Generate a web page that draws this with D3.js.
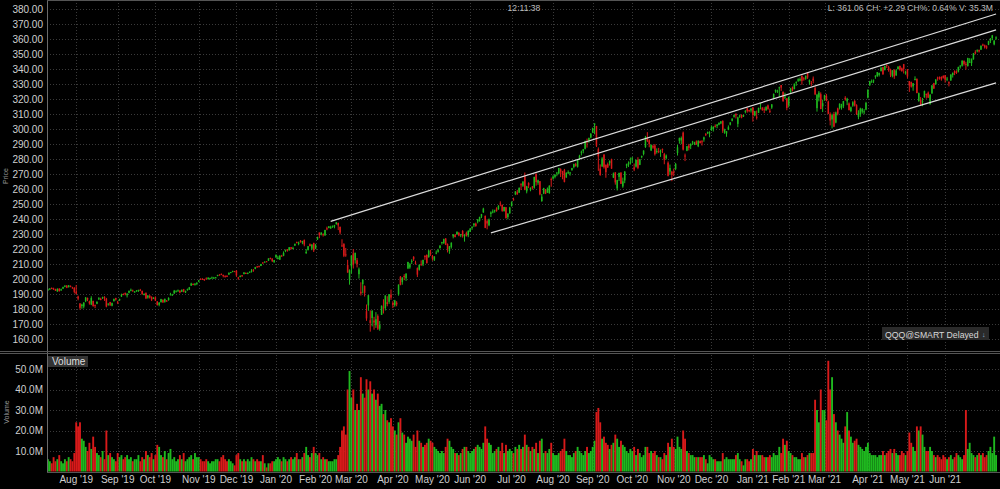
<!DOCTYPE html>
<html><head><meta charset="utf-8">
<script src="https://cdn.jsdelivr.net/npm/d3@7"></script>
<style>
html,body{margin:0;padding:0;background:#000;}
svg{display:block;}
text{font-family:"Liberation Sans",Arial,sans-serif;}
</style></head><body>
<svg id="chart" width="1000" height="489"></svg>
<script>
// ---------- DATA ----------
const firstDay = "2019-07-11";
const lastDay = "2021-07-09";
const holidays = ["2019-09-02","2019-11-28","2019-12-25","2020-01-01","2020-01-20","2020-02-17","2020-04-10","2020-05-25","2020-07-03","2020-09-07","2020-11-26","2020-12-25","2021-01-01","2021-01-18","2021-02-15","2021-04-02","2021-05-31","2021-07-05"];

const opens = [
/*Jul19*/192.6,193.3,194.0,193.6,193.1,191.8,193.5,192.4,193.6,194.8,195.5,194.6,195.4,194.4,194.0,
/*Aug19*/191.5,188.3,183.6,182.0,181.6,185.2,187.4,185.1,183.0,185.4,182.6,183.5,186.4,186.8,187.3,188.1,186.9,183.1,184.6,182.2,185.2,187.3,
/*Sep19*/184.8,185.8,188.4,190.0,190.6,189.2,190.8,192.6,192.3,191.4,191.8,192.2,192.8,192.0,189.6,190.6,187.6,188.9,188.1,186.8,
/*Oct19*/187.8,185.0,182.8,184.6,186.0,184.8,185.6,186.0,189.5,189.4,190.4,191.6,192.2,192.3,191.5,193.1,191.0,192.6,193.0,195.6,196.6,196.5,197.0,
/*Nov19*/198.2,200.2,200.1,199.8,200.4,199.9,200.1,200.7,200.6,200.8,202.0,202.9,203.4,202.7,202.1,202.1,202.9,204.2,204.8,205.2,
/*Dec19*/205.6,201.0,201.5,202.5,203.3,204.0,203.5,204.2,205.0,206.2,206.7,208.3,208.5,208.7,211.0,211.2,211.8,212.2,214.0,213.6,211.2,
/*Jan20*/214.4,213.3,212.9,215.6,215.5,219.0,219.9,219.2,221.2,220.1,222.3,224.7,223.4,225.5,224.3,226.1,217.2,219.4,223.2,220.2,224.0,
/*Feb20*/220.3,226.4,231.0,229.8,229.9,229.1,233.8,234.0,233.7,234.7,235.0,236.6,237.3,234.8,222.4,223.3,216.4,209.3,199.6,
/*Mar20*/208.4,217.1,212.5,212.5,203.2,191.5,196.6,195.3,178.5,182.4,172.5,174.0,172.3,169.2,175.3,166.9,176.1,181.0,180.6,184.5,184.8,189.6,
/*Apr20*/184.1,182.5,184.2,189.7,201.5,197.9,202.0,200.5,207.1,207.7,211.9,214.8,210.9,207.2,206.2,209.9,209.8,215.5,216.0,214.6,217.5,
/*May20*/215.4,212.8,217.2,218.2,220.6,224.0,223.8,227.0,223.2,218.6,221.4,228.4,229.3,229.8,230.7,229.2,232.0,228.4,230.7,229.1,
/*Jun20*/231.5,234.1,235.8,236.9,238.3,238.9,241.6,244.4,242.0,238.6,235.8,243.4,244.7,245.1,247.0,246.6,250.4,249.4,245.3,247.8,241.3,243.8,
/*Jul20*/248.5,253.1,256.4,257.9,257.6,263.2,262.2,268.4,258.4,264.0,259.4,261.6,260.9,270.2,264.2,265.2,251.9,257.0,259.6,257.6,257.3,266.6,
/*Aug20*/267.0,268.1,270.4,270.4,273.2,271.9,272.6,267.7,270.9,270.8,272.7,274.7,276.6,274.8,280.5,284.2,285.4,286.8,291.8,292.5,294.3,
/*Sep20*/297.8,302.8,302.0,286.5,273.6,275.1,283.0,276.1,276.6,277.2,279.9,267.6,271.1,260.4,268.1,270.9,261.7,265.7,275.5,276.3,277.6,
/*Oct20*/280.3,274.4,274.9,279.4,276.1,281.3,283.3,288.0,294.0,292.4,285.7,288.8,289.0,284.7,285.2,285.4,286.7,283.4,280.5,277.5,271.6,271.5,
/*Nov20*/271.4,273.4,284.0,292.1,292.4,297.6,282.3,285.5,289.0,288.8,291.5,290.0,291.7,288.5,291.9,291.8,293.0,296.8,297.2,297.6,
/*Dec20*/299.3,300.0,302.1,302.0,302.9,303.7,305.4,297.6,297.0,299.6,302.9,305.5,308.2,310.1,303.4,308.4,309.3,308.4,311.5,313.8,312.6,312.3,
/*Jan21*/314.4,309.0,308.2,310.8,316.5,314.3,313.2,312.5,315.7,312.1,314.3,320.3,325.1,324.8,327.3,329.3,324.8,321.0,320.4,
/*Feb21*/315.9,324.6,327.8,326.7,331.2,332.2,332.3,335.6,333.8,333.4,337.9,331.2,330.8,333.6,327.3,313.9,321.0,323.2,315.1,
/*Mar21*/319.8,322.1,318.3,310.0,306.4,310.0,304.3,313.7,314.1,314.3,315.2,320.8,318.4,317.0,312.0,315.6,318.7,315.9,308.1,309.6,311.6,311.8,312.9,
/*Apr21*/320.9,329.3,331.3,331.8,334.8,335.3,336.1,338.7,341.3,339.4,342.8,341.2,339.8,335.4,339.3,335.8,340.0,342.0,340.5,343.2,337.1,
/*May21*/339.8,332.0,331.3,328.4,332.8,333.4,318.6,319.6,318.3,321.2,323.4,324.2,316.6,323.7,330.5,329.8,334.2,334.7,334.7,335.4,
/*Jun21*/335.8,333.4,331.2,332.4,336.0,338.6,338.2,338.2,341.7,342.2,345.5,343.4,342.0,344.7,343.9,346.5,351.2,352.2,352.6,352.9,356.3,355.8,
/*Jul21*/355.0,356.2,358.8,360.6,356.4,360.3
];
const highs = [
/*Jul19*/193.6,194.0,194.4,194.2,193.5,193.8,193.9,193.6,194.9,195.8,196.0,196.0,195.7,194.8,194.6,
/*Aug19*/196.0,188.9,184.0,183.5,184.6,188.0,187.6,185.6,188.5,185.5,183.0,185.1,187.9,187.5,188.2,188.5,187.4,183.8,184.8,184.3,187.0,187.5,
/*Sep19*/185.4,186.9,190.2,190.4,191.0,190.5,192.3,193.6,192.9,192.0,192.6,192.9,193.4,192.3,190.5,191.1,189.3,189.2,188.4,187.9,
/*Oct19*/188.4,185.3,184.6,186.8,186.5,186.9,186.0,187.8,190.8,190.1,192.7,192.5,193.0,192.4,193.0,193.4,192.3,193.6,194.7,197.5,197.1,197.3,197.9,
/*Nov19*/199.3,200.4,200.5,200.1,201.1,201.1,200.9,201.6,201.4,201.4,202.8,203.2,203.7,202.9,202.4,202.5,204.3,204.7,205.5,205.4,
/*Dec19*/205.9,201.4,202.5,202.6,204.6,204.4,204.4,205.0,206.6,206.6,208.1,208.7,208.9,210.1,211.2,211.7,211.9,213.8,214.3,213.8,212.7,
/*Jan20*/216.2,215.5,215.8,216.1,218.4,219.6,220.0,221.2,221.3,221.5,223.5,224.9,224.9,226.0,225.4,226.3,219.9,222.0,223.7,223.1,224.2,
/*Feb20*/223.4,228.2,231.0,231.0,230.5,232.8,234.9,235.3,235.5,235.6,236.1,237.9,237.6,234.9,226.5,223.9,220.7,212.8,206.4,
/*Mar20*/215.7,220.0,217.5,214.0,207.6,197.8,199.6,195.7,183.0,189.3,179.1,179.3,174.8,177.9,176.4,172.0,182.3,186.5,189.1,188.5,190.0,193.0,
/*Apr20*/185.2,186.1,185.2,196.4,202.0,201.1,203.2,204.0,211.5,210.6,213.2,215.2,212.2,207.7,209.8,212.4,212.9,215.8,216.4,219.4,219.5,
/*May20*/216.0,215.2,219.0,220.1,222.6,224.8,226.9,227.3,223.7,222.0,224.4,230.0,230.0,231.8,231.4,230.0,232.6,229.8,231.6,232.4,
/*Jun20*/233.9,235.1,237.3,237.6,240.0,241.5,243.4,247.5,242.4,239.8,240.3,245.1,246.4,246.2,247.8,249.2,251.8,249.7,248.1,248.0,243.8,248.1,
/*Jul20*/251.8,254.2,258.6,259.4,261.0,263.9,265.1,271.0,262.1,264.5,261.1,262.0,268.2,270.3,266.2,265.3,256.7,260.8,260.0,261.0,262.5,267.6,
/*Aug20*/269.2,269.9,271.4,274.1,273.8,272.1,273.4,271.1,272.4,271.4,274.1,276.9,277.4,279.8,282.8,285.6,286.6,292.2,293.6,294.3,297.3,
/*Sep20*/300.9,303.7,302.1,287.7,276.4,281.2,283.1,276.4,277.6,279.0,280.2,271.0,271.2,266.1,270.9,271.2,267.6,271.9,276.9,278.4,281.0,
/*Oct20*/281.4,277.0,279.6,281.2,280.0,282.3,285.8,295.4,297.9,293.1,289.7,289.5,290.0,287.1,287.4,286.3,287.0,284.1,283.0,278.4,276.3,272.1,
/*Nov20*/273.6,277.4,289.4,294.3,295.0,298.3,283.6,288.7,290.1,290.4,292.1,291.5,292.4,292.4,292.3,292.6,294.9,297.2,298.3,298.5,
/*Dec20*/302.4,301.8,303.1,303.2,304.5,305.3,305.8,300.2,298.6,302.4,304.5,307.1,309.6,310.4,308.2,309.6,309.8,309.6,312.6,314.2,312.9,313.8,
/*Jan21*/314.6,312.1,312.3,314.3,317.1,314.5,314.5,315.2,316.3,313.6,316.6,323.7,326.4,326.2,328.2,329.3,325.0,324.2,320.6,
/*Feb21*/321.6,327.4,328.3,330.3,331.7,333.8,334.4,335.6,334.6,335.7,338.0,333.0,332.0,335.0,328.3,323.4,325.3,324.4,319.6,
/*Mar21*/322.8,323.4,318.9,311.1,310.2,311.4,311.6,314.2,317.1,316.8,318.7,321.9,320.8,317.7,315.0,318.5,319.3,316.5,312.5,314.2,314.0,313.2,318.1,
/*Apr21*/326.4,332.1,333.0,333.0,335.8,338.0,337.6,341.1,341.4,342.3,342.9,342.1,340.2,339.2,339.9,339.8,341.8,342.3,341.0,343.4,338.9,
/*May21*/340.0,332.0,331.6,330.6,335.1,333.7,324.3,321.3,320.7,325.6,323.6,325.0,323.3,329.3,330.8,333.3,334.9,335.0,335.1,335.8,
/*Jun21*/336.0,334.7,331.8,336.5,337.7,339.1,339.1,341.5,342.5,345.7,345.6,344.8,347.5,347.2,347.0,350.7,352.5,353.1,353.0,355.7,356.9,356.3,
/*Jul21*/355.8,358.8,360.6,362.7,359.4,361.8
];
const lows = [
/*Jul19*/192.1,192.8,193.2,192.7,192.0,191.4,191.6,192.1,193.3,194.5,193.9,194.3,194.5,193.5,190.4,
/*Aug19*/189.6,185.8,179.5,180.2,180.4,184.6,185.2,182.9,182.6,181.6,180.6,183.2,186.1,185.8,186.7,185.4,181.1,182.2,182.0,181.8,185.0,185.6,
/*Sep19*/183.3,185.4,188.0,189.2,189.1,187.7,190.4,191.8,191.8,191.0,191.5,191.4,191.9,189.5,189.1,186.6,186.9,187.0,185.3,186.6,
/*Oct19*/185.3,182.3,181.8,184.3,184.1,184.2,184.9,185.5,189.0,188.9,190.1,191.2,191.6,190.5,191.3,191.1,190.6,192.2,192.7,195.4,195.9,195.6,195.9,
/*Nov19*/197.9,199.5,199.4,198.8,199.9,199.6,199.8,200.3,200.2,200.5,201.8,202.4,202.6,201.1,200.9,201.3,202.8,203.9,204.5,204.7,
/*Dec19*/201.5,199.5,201.1,201.4,203.1,203.4,203.2,204.0,204.3,204.8,206.5,207.7,207.9,208.6,210.2,210.9,211.3,212.0,213.1,211.3,210.8,
/*Jan20*/214.1,213.1,212.7,214.9,215.2,217.9,218.2,218.9,219.6,219.8,222.0,223.7,222.5,224.3,223.2,221.8,216.8,219.0,221.7,219.2,218.0,
/*Feb20*/219.9,226.0,227.2,229.1,228.3,228.8,232.5,233.8,233.5,234.1,233.8,236.2,232.6,229.7,221.4,214.6,214.8,204.2,196.2,
/*Mar20*/203.6,207.0,210.3,207.7,200.3,189.0,190.4,188.3,172.1,178.8,164.9,168.4,166.2,167.4,166.0,165.5,176.0,177.0,179.0,181.8,183.4,186.1,
/*Apr20*/180.6,181.5,181.8,188.9,195.8,196.2,199.2,198.7,206.6,206.8,210.0,212.0,209.6,201.3,205.6,208.8,208.6,212.8,210.3,214.2,215.4,
/*May20*/212.2,212.0,216.5,217.6,220.3,222.9,223.5,222.6,217.7,216.8,220.3,227.1,227.7,229.4,228.5,227.9,227.6,224.9,228.3,227.9,
/*Jun20*/231.3,232.8,234.6,234.8,237.1,238.2,240.6,244.1,233.9,233.1,235.2,241.3,243.8,244.2,244.9,246.1,248.5,244.8,244.9,240.3,239.8,243.5,
/*Jul20*/248.4,252.3,255.9,256.2,257.3,259.3,261.4,259.2,257.1,260.6,258.5,259.6,260.2,262.2,262.8,255.8,251.5,256.6,256.6,257.4,256.8,261.5,
/*Aug20*/266.2,267.1,268.5,269.7,268.0,266.5,264.4,267.4,269.9,268.9,272.1,273.8,274.9,274.3,279.3,282.4,283.8,286.4,287.6,290.8,293.8,
/*Sep20*/297.3,296.5,288.0,272.1,268.8,274.7,273.6,267.5,274.0,275.6,273.4,267.3,262.9,259.0,265.3,263.3,260.8,263.9,273.9,274.7,276.3,
/*Oct20*/277.6,271.9,274.3,273.2,275.9,280.5,282.4,287.4,291.3,287.8,285.3,286.8,282.3,283.6,283.9,281.4,284.0,276.5,279.7,268.4,269.4,265.2,
/*Nov20*/268.6,272.5,282.3,290.2,289.9,285.7,278.6,285.2,285.7,286.6,289.4,289.3,289.5,287.9,290.4,289.0,291.5,295.3,296.6,294.5,
/*Dec20*/298.7,298.3,301.0,300.5,302.5,303.2,297.4,296.8,294.8,299.2,302.4,305.1,307.6,307.0,301.2,307.4,307.1,308.0,310.4,310.9,311.2,311.0,
/*Jan21*/304.9,308.5,306.3,310.6,313.1,312.1,310.6,312.1,312.8,310.6,313.4,320.2,324.1,324.0,321.3,325.4,318.1,320.0,312.5,
/*Feb21*/314.4,323.6,325.1,326.4,328.8,331.4,331.8,329.5,332.2,332.8,333.4,329.5,328.7,330.5,322.6,311.6,318.4,313.2,311.3,
/*Mar21*/318.8,318.5,309.9,302.4,300.4,301.2,303.8,309.1,313.0,312.9,313.9,318.9,315.9,312.4,311.2,314.8,315.0,309.4,306.5,308.1,310.3,309.8,312.5,
/*Apr21*/320.4,328.7,330.9,330.6,333.5,334.7,335.0,338.3,336.1,339.0,340.7,338.2,334.6,334.4,333.4,335.4,339.6,338.8,338.3,337.0,336.2,
/*May21*/333.7,324.7,327.6,325.5,332.4,323.8,318.2,315.5,315.2,320.8,320.2,320.7,316.2,323.5,326.7,329.6,332.2,332.9,332.2,333.6,
/*Jun21*/330.9,331.9,328.4,332.1,334.3,335.9,336.7,337.7,340.3,341.6,342.3,339.6,341.6,344.2,342.0,346.2,349.7,351.1,351.0,352.7,355.2,353.6,
/*Jul21*/353.2,355.9,357.3,359.2,355.8,359.5
];
const closes = [
/*Jul19*/193.1,193.6,193.8,193.0,192.2,193.4,191.9,193.2,194.6,195.6,194.2,195.7,194.9,194.1,191.4,
/*Aug19*/190.2,186.9,180.8,182.9,184.2,187.6,186.2,183.8,187.3,181.9,182.0,184.8,187.2,186.0,187.8,187.2,181.6,183.6,182.8,183.9,186.6,186.3,
/*Sep19*/184.5,186.6,189.6,189.8,190.0,190.2,192.1,192.8,192.2,191.6,192.3,192.6,192.2,189.9,190.0,187.1,188.9,187.6,186.2,187.4,
/*Oct19*/185.6,182.6,184.2,186.6,184.4,186.8,185.2,187.4,189.9,189.6,192.2,191.8,192.4,191.0,192.8,191.4,191.9,193.2,194.4,197.0,196.4,196.8,197.4,
/*Nov19*/199.1,199.9,199.8,199.6,200.3,200.9,200.6,201.0,200.9,201.1,202.7,202.8,203.1,202.0,201.6,202.0,204.2,204.6,205.4,205.0,
/*Dec19*/202.4,200.8,202.0,202.2,204.3,203.6,204.0,204.9,205.5,205.7,207.9,208.1,208.2,210.0,210.8,211.6,211.7,213.7,213.5,211.9,212.6,
/*Jan20*/216.2,214.2,215.6,215.5,217.4,219.4,218.9,221.2,220.2,220.7,223.5,224.3,224.2,224.5,225.4,223.0,218.1,221.8,222.0,223.0,219.1,
/*Feb20*/222.5,228.0,229.2,231.0,229.8,232.7,233.1,235.1,234.7,235.5,235.8,237.8,235.7,231.0,222.2,215.5,215.9,204.3,205.8,
/*Mar20*/215.6,209.5,217.5,210.0,206.4,190.4,199.6,190.8,173.7,189.2,170.7,178.7,171.0,173.2,166.8,169.3,182.2,180.8,189.0,183.3,189.9,187.6,
/*Apr20*/182.7,185.7,183.1,196.2,196.0,201.0,201.5,203.4,211.3,209.6,212.1,213.2,210.6,202.9,209.3,209.3,212.7,214.6,210.6,218.9,217.0,
/*May20*/213.5,215.0,217.6,219.2,222.2,224.6,226.6,222.8,220.1,221.8,224.2,229.6,228.0,231.4,229.0,229.8,228.6,229.6,228.9,232.2,
/*Jun20*/233.6,234.8,236.9,235.3,239.6,241.4,243.2,246.9,234.1,237.0,239.6,244.4,245.0,245.8,245.2,248.8,250.2,245.4,248.0,240.6,243.6,247.6,
/*Jul20*/251.2,252.8,258.4,256.4,260.8,262.6,265.0,259.4,261.8,262.4,260.6,261.2,268.0,264.6,265.8,256.4,254.9,260.6,256.9,260.3,262.2,266.0,
/*Aug20*/268.3,269.4,270.9,274.0,271.6,270.0,264.7,270.8,271.2,271.0,273.9,276.6,275.4,279.6,282.2,284.9,286.5,292.0,291.3,293.9,296.8,
/*Sep20*/300.6,303.7,288.9,281.7,269.4,280.3,274.5,271.2,274.4,278.8,273.6,270.3,264.4,265.9,270.7,263.5,265.1,271.6,276.5,277.3,277.8,
/*Oct20*/280.4,273.0,279.4,274.1,279.8,281.9,285.6,294.5,292.2,290.0,289.4,287.6,283.2,285.3,285.0,285.6,286.1,279.6,282.3,268.8,274.0,269.4,
/*Nov20*/271.3,276.7,287.8,293.9,294.0,286.3,282.0,288.5,287.4,290.1,291.6,290.9,289.7,292.2,290.6,291.4,294.4,296.2,298.0,297.6,
/*Dec20*/301.2,301.5,301.7,303.0,304.0,305.1,298.9,299.5,298.5,301.2,304.4,306.9,309.2,309.0,307.7,309.0,307.6,309.3,312.1,311.9,312.1,313.7,
/*Jan21*/309.3,311.9,307.5,314.0,317.0,312.7,312.6,314.6,313.4,311.9,316.4,323.4,326.0,325.6,327.8,327.6,318.6,321.6,314.0,
/*Feb21*/321.4,326.9,325.6,330.2,331.4,333.1,333.3,332.1,333.7,335.4,334.3,332.6,330.7,332.1,323.1,322.8,324.2,313.3,317.2,
/*Mar21*/322.5,318.8,310.1,305.6,309.2,301.6,311.0,310.2,316.8,315.4,318.6,319.8,320.2,312.6,314.4,317.8,315.6,309.8,310.4,313.6,313.2,311.8,317.4,
/*Apr21*/326.2,331.8,331.7,332.4,335.6,337.9,337.3,341.0,336.5,342.0,342.0,339.3,336.2,339.1,335.0,339.0,341.6,339.6,338.5,340.1,337.9,
/*May21*/335.0,329.0,328.2,330.5,333.4,324.0,323.9,315.7,318.6,325.3,322.6,320.9,322.8,329.0,327.0,332.9,333.5,334.3,333.1,334.2,
/*Jun21*/332.9,333.6,330.4,336.3,337.4,337.4,337.4,341.4,342.3,345.6,343.4,342.9,347.3,344.8,346.8,350.4,350.4,352.5,351.7,355.5,356.1,354.4,
/*Jul21*/354.6,358.6,360.2,362.4,358.77,361.06
];
// volume in millions
const volumes = [
/*Jul19*/6,5,4,7,5,6,8,5,4,6,5,7,6,5,9,
/*Aug19*/24,22,24,16,15,12,10,14,11,17,12,9,8,7,10,6,20,8,9,7,6,5,
/*Sep19*/9,7,8,6,7,8,6,7,5,6,6,8,5,7,6,10,8,7,9,6,
/*Oct19*/8,13,12,8,7,10,6,9,11,6,7,5,6,8,6,9,5,6,7,8,6,9,7,
/*Nov19*/7,6,5,5,6,5,4,5,5,6,6,5,7,8,6,5,6,5,4,3,
/*Dec19*/8,9,6,5,6,5,6,5,7,6,5,6,5,5,8,4,2,4,4,5,5,
/*Jan20*/6,7,6,5,7,6,5,6,7,6,7,9,6,6,7,9,12,8,7,9,12,
/*Feb20*/9,8,9,6,7,6,6,5,5,5,6,6,8,12,20,22,18,40,49,
/*Mar20*/36,40,30,33,30,46,38,36,45,40,44,38,40,35,38,32,33,28,30,25,24,26,
/*Apr20*/22,20,18,24,26,19,18,14,17,16,15,18,12,20,15,14,12,13,14,16,15,
/*May20*/14,12,11,10,9,10,9,12,16,15,12,11,9,9,8,9,11,12,12,10,
/*Jun20*/9,10,11,12,13,12,11,14,22,16,14,13,9,10,11,12,10,14,9,13,10,11,
/*Jul20*/10,9,12,11,13,11,12,18,13,12,10,12,11,14,9,15,16,9,10,9,11,14,
/*Aug20*/9,8,8,9,10,11,16,10,8,8,7,9,10,12,10,9,8,10,12,9,10,
/*Sep20*/12,15,29,31,24,16,17,14,13,11,13,14,18,16,12,15,13,12,10,9,11,
/*Oct20*/10,12,8,11,9,7,8,12,12,9,10,9,10,8,7,7,6,9,8,14,12,16,
/*Nov20*/12,11,17,12,11,20,16,10,9,8,8,7,7,7,7,7,8,6,4,8,
/*Dec20*/7,6,6,5,5,5,9,6,7,6,6,6,6,8,9,6,5,3,6,6,5,6,
/*Jan21*/11,8,10,8,8,8,7,7,7,8,7,9,8,8,12,9,16,13,15,
/*Feb21*/10,9,8,7,7,6,6,9,7,7,8,9,9,9,35,30,24,40,30,
/*Mar21*/30,25,54,40,46,28,24,20,18,16,14,22,29,20,17,14,15,16,13,12,11,10,12,
/*Apr21*/14,9,8,8,8,7,8,8,10,8,9,10,11,9,11,9,8,8,10,9,8,
/*May21*/10,19,14,12,10,22,20,22,18,12,10,10,12,10,8,7,8,7,6,8,
/*Jun21*/7,6,7,8,6,7,9,8,7,6,8,30,11,14,9,8,7,8,9,8,9,7,
/*Jul21*/8,10,12,9,17,8
];

const priceTicks = [160,170,180,190,200,210,220,230,240,250,260,270,280,290,300,310,320,330,340,350,360,370,380];
const volumeTicks = [10,20,30,40,50];
// channel lines: start date, start price, end date, end price
const channelStartDates = ["2020-02-13","2020-06-05","2020-06-16"];
const channelStartPrices = [238.4, 259.0, 230.7];
const channelEndDates = ["2021-07-09","2021-07-09","2021-07-09"];
const channelEndPrices = [376.7, 366.1, 330.8];
const headerTime = "12:11:38";
const headerQuote = "L: 361.06 CH: +2.29 CH%: 0.64% V: 35.3M";
const symbolLabel = "QQQ@SMART Delayed";

// ---------- BUILD ----------
const fmtDay = d3.timeFormat("%Y-%m-%d");
const parseDay = d3.timeParse("%Y-%m-%d");
const fmtMonth = d3.timeFormat("%b '%y");
const holidaySet = new Set(holidays);
const tradingDays = d3.timeDay.range(parseDay(firstDay), d3.timeDay.offset(parseDay(lastDay), 1))
  .filter(d => d.getDay() !== 0 && d.getDay() !== 6 && !holidaySet.has(fmtDay(d)));
const n = Math.min(tradingDays.length, closes.length);
const data = d3.range(n).map(i => ({
  key: fmtDay(tradingDays[i]), d: tradingDays[i],
  o: opens[i], h: highs[i], l: lows[i], c: closes[i], v: volumes[i]
}));

const W = 1000, H = 489;
const plotL = 47, plotR = 997;
const priceTop = 0, priceBot = 351;
const volTop = 355, volBot = 472;

const x = d3.scaleBand().domain(data.map(d => d.key)).range([plotL, plotR]).paddingInner(0).paddingOuter(0);
const bw = x.bandwidth();
const xc = k => x(k) + bw / 2;
const yP = d3.scaleLinear().domain([160, 380]).range([339, 9]);
const yV = d3.scaleLinear().domain([0, 50]).range([471.5, 369]);

const monthStarts = data.filter((d, i) => i > 0 && d.d.getMonth() !== data[i - 1].d.getMonth()).map(d => d.key);
// only label months whose label fits inside the chart
const monthLabels = monthStarts.filter(k => xc(k) + 18 <= W);

const svg = d3.select("#chart");
svg.append("rect").attr("width", W).attr("height", H).attr("fill", "#000");

const defs = svg.append("defs");
defs.append("clipPath").attr("id", "clipP").append("rect").attr("x", plotL).attr("y", priceTop).attr("width", W - plotL).attr("height", priceBot - priceTop);
defs.append("clipPath").attr("id", "clipV").append("rect").attr("x", plotL).attr("y", volTop).attr("width", W - plotL).attr("height", volBot - volTop);

const gridColor = "#3a3a3a";
const grid = svg.append("g");
grid.selectAll("line.hp").data(priceTicks).join("line")
  .attr("x1", plotL).attr("x2", W).attr("y1", d => Math.round(yP(d)) + 0.5).attr("y2", d => Math.round(yP(d)) + 0.5)
  .attr("stroke", gridColor).attr("stroke-dasharray", "1,2");
grid.selectAll("line.hv").data(volumeTicks).join("line")
  .attr("x1", plotL).attr("x2", W).attr("y1", d => Math.round(yV(d)) + 0.5).attr("y2", d => Math.round(yV(d)) + 0.5)
  .attr("stroke", gridColor).attr("stroke-dasharray", "1,2");
grid.selectAll("line.vp").data(monthLabels).join("line")
  .attr("x1", d => Math.round(xc(d)) + 0.5).attr("x2", d => Math.round(xc(d)) + 0.5)
  .attr("y1", priceTop).attr("y2", priceBot).attr("stroke", gridColor).attr("stroke-dasharray", "1,2");
grid.selectAll("line.vv").data(monthLabels).join("line")
  .attr("x1", d => Math.round(xc(d)) + 0.5).attr("x2", d => Math.round(xc(d)) + 0.5)
  .attr("y1", volTop).attr("y2", volBot).attr("stroke", gridColor).attr("stroke-dasharray", "1,2");

const up = "#1fb81f", down = "#d81a1a";
const col = d => d.c >= d.o ? up : down;

// Candles
const gC = svg.append("g").attr("clip-path", "url(#clipP)");
gC.selectAll("line.wick").data(data).join("line")
  .attr("x1", d => xc(d.key)).attr("x2", d => xc(d.key))
  .attr("y1", d => yP(Math.max(d.h, d.o, d.c))).attr("y2", d => yP(Math.min(d.l, d.o, d.c)))
  .attr("stroke", col).attr("stroke-width", 1);
gC.selectAll("rect.body").data(data).join("rect")
  .attr("x", d => xc(d.key) - bw * 0.4).attr("width", bw * 0.8)
  .attr("y", d => yP(Math.max(d.o, d.c)))
  .attr("height", d => Math.max(1, Math.abs(yP(d.o) - yP(d.c))))
  .attr("fill", col);

// Channel lines
const channels = channelStartDates.map((s, i) => ({s, sp: channelStartPrices[i], e: channelEndDates[i], ep: channelEndPrices[i]}));
gC.selectAll("line.ch").data(channels).join("line")
  .attr("x1", d => xc(d.s)).attr("y1", d => yP(d.sp))
  .attr("x2", d => xc(d.e)).attr("y2", d => yP(d.ep))
  .attr("stroke", "#dcdcdc").attr("stroke-width", 1.2);

// Volume bars
const gV = svg.append("g").attr("clip-path", "url(#clipV)");
gV.selectAll("rect").data(data).join("rect")
  .attr("x", d => x(d.key)).attr("width", bw)
  .attr("y", d => yV(d.v)).attr("height", d => yV(0) - yV(d.v))
  .attr("fill", col);

// Frame lines
const frame = svg.append("g").attr("stroke", "#6a6a6a").attr("fill", "none");
frame.append("line").attr("x1", plotL + 0.5).attr("x2", plotL + 0.5).attr("y1", 0).attr("y2", volBot);
frame.append("line").attr("x1", plotL).attr("x2", W).attr("y1", 0.5).attr("y2", 0.5).attr("stroke", "#555");
frame.append("line").attr("x1", 0).attr("x2", W).attr("y1", 351.5).attr("y2", 351.5).attr("stroke", "#555");
frame.append("line").attr("x1", 0).attr("x2", W).attr("y1", 353.5).attr("y2", 353.5).attr("stroke", "#555");
frame.append("line").attr("x1", plotL).attr("x2", W).attr("y1", volBot + 0.5).attr("y2", volBot + 0.5).attr("stroke", "#555");

// Axes
const axisColor = "#cfcfcf";
const ax1 = svg.append("g").attr("transform", `translate(${plotL},0)`)
  .call(d3.axisLeft(yP).tickValues(priceTicks).tickFormat(d3.format(".2f")).tickSize(0).tickPadding(4));
const ax2 = svg.append("g").attr("transform", `translate(${plotL},0)`)
  .call(d3.axisLeft(yV).tickValues(volumeTicks).tickFormat(v => d3.format(".1f")(v) + "M").tickSize(0).tickPadding(4));
const ax3 = svg.append("g").attr("transform", `translate(0,${volBot})`)
  .call(d3.axisBottom(x).tickValues(monthLabels).tickFormat(k => fmtMonth(parseDay(k))).tickSize(0).tickPadding(4));
[ax1, ax2, ax3].forEach(a => {
  a.select(".domain").remove();
  a.selectAll("text").attr("fill", axisColor).style("font-size", "10px").style("font-family", '"Liberation Sans",Arial,sans-serif');
});

// Axis titles
svg.append("text").attr("transform", "translate(8,176) rotate(-90)").attr("text-anchor", "middle")
  .attr("fill", "#9a9a9a").style("font-size", "7px").text("Price");
svg.append("text").attr("transform", "translate(9,412) rotate(-90)").attr("text-anchor", "middle")
  .attr("fill", "#9a9a9a").style("font-size", "7px").text("Volume");

// Header
svg.append("text").attr("x", 524).attr("y", 10.5).attr("text-anchor", "middle")
  .attr("fill", "#bdbdbd").style("font-size", "8.6px").text(headerTime);
svg.append("text").attr("x", 993).attr("y", 10.5).attr("text-anchor", "end")
  .attr("fill", "#bdbdbd").style("font-size", "8.6px").text(headerQuote);

// Volume panel label
svg.append("rect").attr("x", 48).attr("y", 356).attr("width", 40).attr("height", 11).attr("fill", "#333");
svg.append("text").attr("x", 52).attr("y", 365).attr("fill", "#dedede").style("font-size", "10px").text("Volume");

// Symbol badge
svg.append("rect").attr("x", 882).attr("y", 327).attr("width", 107).attr("height", 13).attr("fill", "#2a2a2a");
svg.append("text").attr("x", 885).attr("y", 337.5).attr("fill", "#d8d8d8").style("font-size", "8.7px").text(symbolLabel);
svg.append("text").attr("x", 982).attr("y", 337).attr("fill", "#8fb4d8").style("font-size", "7px").text("↓");
</script>
</body></html>
